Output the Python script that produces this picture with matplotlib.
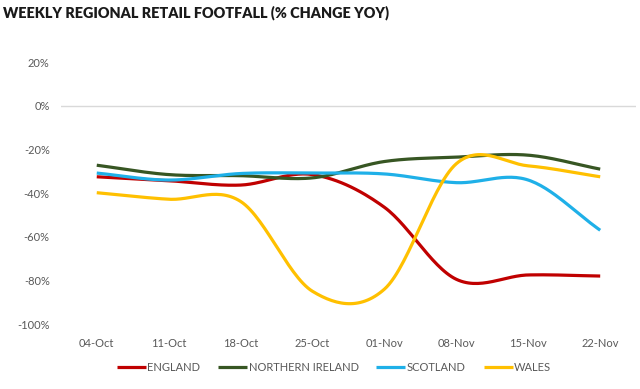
#!/usr/bin/env python3
"""Weekly regional retail footfall (% change YoY), Excel-style smoothed lines."""

import matplotlib
matplotlib.use('Agg')
import matplotlib.pyplot as plt
from matplotlib.ticker import FuncFormatter
import numpy as np

plt.rcParams['font.family'] = ['Lato', 'DejaVu Sans']

# ── Data ─────────────────────────────────────────────────────────────────────
weeks = ['04-Oct', '11-Oct', '18-Oct', '25-Oct', '01-Nov', '08-Nov', '15-Nov', '22-Nov']
england          = [-32.5, -34.3, -36.3, -31.5, -46.5, -79.5, -77.5, -78.0]
northern_ireland = [-27.2, -31.5, -32.0, -33.0, -25.5, -23.5, -22.6, -29.0]
scotland         = [-30.8, -34.0, -31.0, -30.8, -31.2, -35.2, -34.0, -57.0]
wales            = [-39.8, -42.8, -43.8, -85.0, -84.0, -26.5, -27.5, -32.5]

series = [
    ('ENGLAND', england, '#C00000'),
    ('NORTHERN IRELAND', northern_ireland, '#375623'),
    ('SCOTLAND', scotland, '#1FB0E8'),
    ('WALES', wales, '#FFC000'),
]

GREY_TXT = '#595959'


def smooth(y, n=30):
    """Catmull-Rom curve through the points (what Excel's 'smoothed line' does)."""
    y = np.asarray(y, float)
    p = np.concatenate([[2 * y[0] - y[1]], y, [2 * y[-1] - y[-2]]])
    xs, ys = [], []
    for i in range(len(y) - 1):
        p0, p1, p2, p3 = p[i], p[i + 1], p[i + 2], p[i + 3]
        t = np.linspace(0, 1, n, endpoint=(i == len(y) - 2))
        m1 = (p2 - p0) / 2
        m2 = (p3 - p1) / 2
        h = ((2 * t**3 - 3 * t**2 + 1) * p1 + (t**3 - 2 * t**2 + t) * m1
             + (-2 * t**3 + 3 * t**2) * p2 + (t**3 - t**2) * m2)
        xs.append(i + t)
        ys.append(h)
    return np.concatenate(xs), np.concatenate(ys)


fig = plt.figure(figsize=(6.4, 3.89), dpi=100)
fig.patch.set_facecolor('white')
ax = fig.add_axes([0.095, 0.167, 0.899, 0.673])

ax.axhline(0, color='#D9D9D9', lw=1.0, zorder=1)

for label, vals, col in series:
    sx, sy = smooth(vals)
    ax.plot(sx, sy, color=col, lw=2.3, label=label, solid_capstyle='butt', zorder=3)

ax.set_xlim(-0.5, len(weeks) - 0.5)
ax.set_ylim(-100, 20)
ax.set_yticks(np.arange(-100, 21, 20))
ax.yaxis.set_major_formatter(FuncFormatter(lambda v, _: f'{v:.0f}%'))
ax.set_xticks(range(len(weeks)))
ax.set_xticklabels(weeks)
ax.tick_params(length=0, labelsize=8, labelcolor=GREY_TXT, pad=8)
ax.tick_params(axis='x', pad=10)
for s in ax.spines.values():
    s.set_visible(False)

fig.text(0.004, 0.968, 'WEEKLY REGIONAL RETAIL FOOTFALL (% CHANGE YOY)',
         fontsize=10.4, fontweight='heavy', color='#1A1A1A', ha='left', va='center')

leg = fig.legend(loc='center', bbox_to_anchor=(0.522, 0.055), ncol=4, frameon=False,
                 fontsize=8, handlelength=2.6, handletextpad=0.15, columnspacing=1.6)
for t in leg.get_texts():
    t.set_color(GREY_TXT)

plt.savefig('out.png', dpi=100, facecolor='white')
plt.close()
